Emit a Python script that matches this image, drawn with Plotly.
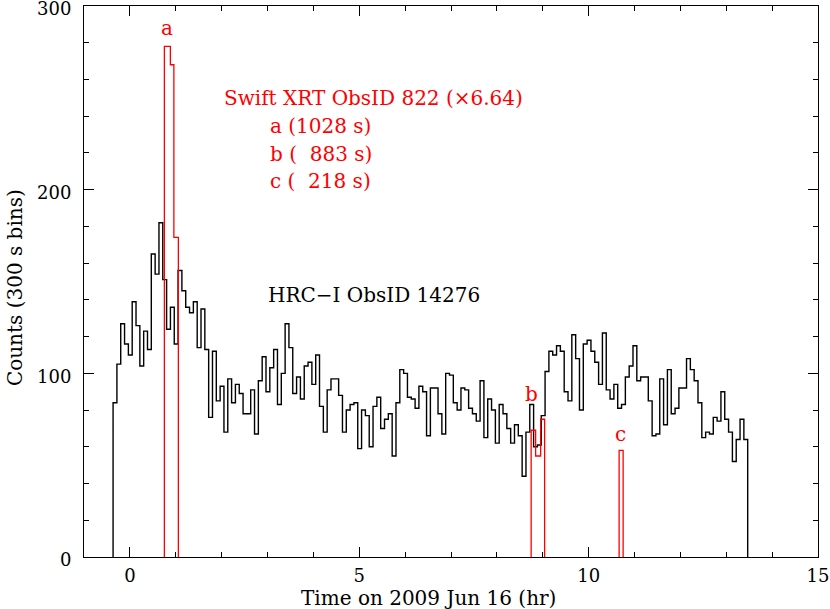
import plotly.graph_objects as go

# ---------------- data ----------------
hrc_start_hr = -0.366          # start of first HRC-I bin (hr)
hrc_bin_hr = 300.0 / 3600.0    # 300 s bins
hrc_counts = [
    84, 105, 127, 116, 110, 139, 126, 104, 123, 113, 165, 154, 182, 151, 124, 136, 116, 156, 145, 136,
    133, 139, 114, 135, 113, 76, 112, 85, 93, 68, 97, 84, 94, 89, 78, 78, 91, 67, 96, 109, 90, 103,
    113, 83, 100, 127, 114, 89, 98, 86, 104, 106, 94, 110, 82, 68, 91, 97, 97, 88, 68, 80, 83,
    84, 59, 80, 77, 60, 82, 87, 70, 75, 78, 55, 84, 102, 100, 87, 86, 81, 93, 90, 66, 92,
    92, 78, 67, 100, 99, 84, 80, 92, 91, 81, 78, 74, 96, 65, 86, 80, 62, 83, 78, 70, 62, 72,
    66, 44, 68, 83, 60, 61, 77, 101, 112, 110, 115, 112, 90, 85, 121, 108, 80, 116, 118, 112, 106,
    94, 122, 91, 86, 94, 81, 83, 98, 104, 115, 96, 98, 98, 85, 66, 67, 97, 72, 102, 78, 81,
    92, 92, 108, 102, 96, 84, 65, 68, 67, 76, 74, 90, 75, 68, 52, 64, 75, 64,
]

# Swift XRT segments (scaled x6.64): bin edges (hr) and counts
swift_labels = ["a", "b", "c"]
swift_edges = [
    [0.752, 0.883, 0.959, 1.057],
    [8.747, 8.845, 8.954, 9.041],
    [10.665, 10.752],
]
swift_counts = [
    [278, 268, 174],
    [69, 55, 75],
    [58],
]
swift_label_pos = [(0.82, 288), (8.75, 89), (10.69, 67)]

legend_lines = ["Swift XRT ObsID 822 (\u00d76.64)",
                "a (1028 s)", "b (\u2007883 s)", "c (\u2007218 s)"]
hrc_label = "HRC\u2212I ObsID 14276"
x_title = "Time on 2009 Jun 16 (hr)"
y_title = "Counts (300 s bins)"

# ---------------- helpers ----------------
def outline(edges, values):
    xs = [edges[0]] + list(edges[:-1]) + [edges[-1]]
    ys = [0] + list(values) + [0]
    return xs, ys

hrc_edges = [hrc_start_hr + i * hrc_bin_hr for i in range(len(hrc_counts) + 1)]
bx, by = outline(hrc_edges, hrc_counts)

rx, ry = [], []
for e, c in zip(swift_edges, swift_counts):
    xs, ys = outline(e, c)
    rx += xs + [None]
    ry += ys + [None]

FONT = "DejaVu Serif"
RED = "#ff0000"
TXT = 20

fig = go.Figure()
fig.add_trace(go.Scatter(x=bx, y=by, mode="lines", line=dict(color="black", width=1.4, shape="hv"),
                         hoverinfo="skip", showlegend=False))
fig.add_trace(go.Scatter(x=rx, y=ry, mode="lines", line=dict(color=RED, width=1.3, shape="hv"),
                         hoverinfo="skip", showlegend=False, connectgaps=False))

for lab, (lx, ly) in zip(swift_labels, swift_label_pos):
    fig.add_annotation(x=lx, y=ly, text=lab, showarrow=False, xanchor="center", yanchor="middle",
                       font=dict(family=FONT, size=TXT, color=RED))

fig.add_annotation(x=2.01, y=250, text=legend_lines[0], showarrow=False, xanchor="left", yanchor="middle",
                   font=dict(family=FONT, size=TXT, color=RED))
for i, t in enumerate(legend_lines[1:]):
    fig.add_annotation(x=3.02, y=234.5 - 15 * i, text=t, showarrow=False, xanchor="left", yanchor="middle",
                       font=dict(family=FONT, size=TXT, color=RED))
fig.add_annotation(x=2.97, y=142.6, text=hrc_label, showarrow=False, xanchor="left", yanchor="middle",
                   font=dict(family=FONT, size=TXT, color="black"))

# axis titles
fig.add_annotation(xref="paper", yref="paper", x=0.469, y=0, yshift=-41, text=x_title, showarrow=False,
                   xanchor="center", yanchor="middle", font=dict(family=FONT, size=TXT, color="black"))
fig.add_annotation(xref="paper", yref="paper", x=0, y=0.488, xshift=-69, text=y_title, showarrow=False,
                   textangle=-90, xanchor="center", yanchor="middle",
                   font=dict(family=FONT, size=TXT, color="black"))

axis_common = dict(showline=True, linecolor="black", linewidth=1, mirror="allticks", ticks="inside",
                   tickcolor="black", tickwidth=1, ticklen=10, showgrid=False, zeroline=False,
                   automargin=False, ticklabeloverflow="allow",
                   tickfont=dict(family=FONT, size=18, color="black"))

fig.update_xaxes(range=[-1, 15], tick0=0, dtick=5,
                 minor=dict(dtick=1, tick0=0, ticklen=5, ticks="inside", tickcolor="black", showgrid=False),
                 ticklabelstandoff=2, **axis_common)
fig.update_yaxes(range=[0, 300], tick0=0, dtick=100,
                 minor=dict(dtick=20, tick0=0, ticklen=5, ticks="inside", tickcolor="black", showgrid=False),
                 ticklabelstandoff=8, ticklabelshift=3, **axis_common)

fig.update_layout(width=830, height=609, margin=dict(l=84, r=12, t=6, b=52),
                  paper_bgcolor="white", plot_bgcolor="white", showlegend=False)

fig.write_html("out.html", config={"displayModeBar": False, "staticPlot": True},
               post_script="document.body.style.margin='0px';document.body.style.overflow='hidden';")
